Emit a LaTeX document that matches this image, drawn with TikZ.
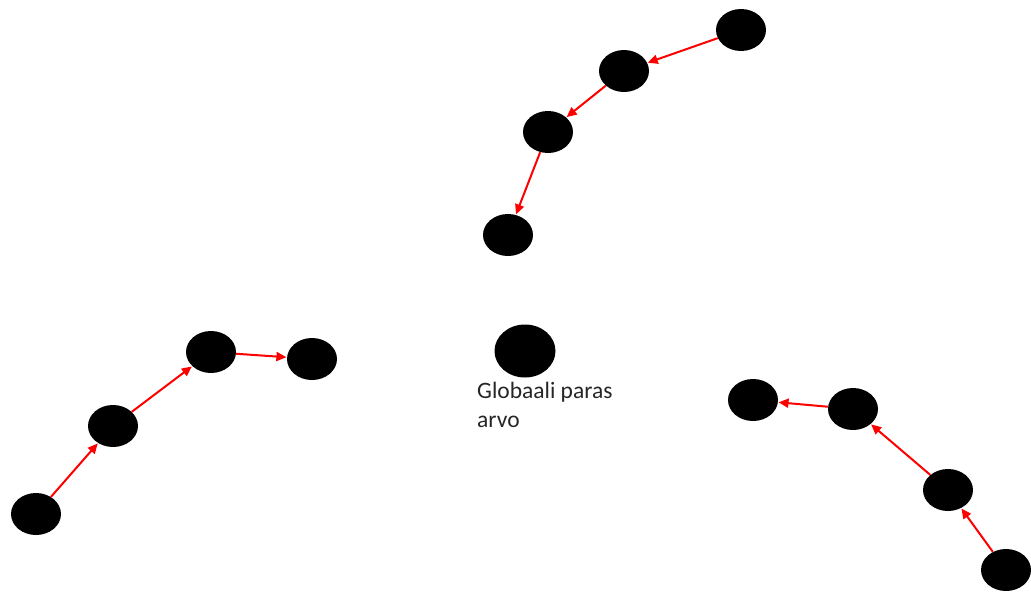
\documentclass[tikz,border=0pt]{standalone}
\usepackage{fontspec}
\setmainfont{Carlito}
\usetikzlibrary{shapes.geometric,arrows.meta}
\tikzset{
  dot/.style={ellipse,fill=black,draw=none,inner sep=0pt,minimum width=50pt,minimum height=42pt},
  bigdot/.style={ellipse,fill=black,draw=none,inner sep=0pt,minimum width=61pt,minimum height=53pt},
  link/.style={draw=red,line width=2pt,-{Triangle[length=10pt,width=9pt]},shorten >=0.5pt}
}
\begin{document}
\begin{tikzpicture}[x=1pt,y=-1pt]
\useasboundingbox (0,0) rectangle (1031,592);
% top group
\node[dot] (t1) at (741,30) {};
\node[dot] (t2) at (624,71) {};
\node[dot] (t3) at (548,132) {};
\node[dot] (t4) at (508,235) {};
% centre
\node[bigdot] (g) at (525,351) {};
\node[anchor=base west,align=left,inner sep=0pt,font=\fontsize{23.5pt}{29pt}\selectfont,text=black!85] (glabel) at (477,427) {Globaali paras\\arvo};
% left group
\node[dot] (l1) at (36,514) {};
\node[dot] (l2) at (113,426) {};
\node[dot] (l3) at (211,352) {};
\node[dot] (l4) at (312,359) {};
% right group
\node[dot] (r1) at (753,400) {};
\node[dot] (r2) at (853,409) {};
\node[dot] (r3) at (948,490) {};
\node[dot] (r4) at (1006,570) {};
% arrows
\draw[link] (t1) -- (t2);
\draw[link] (t2) -- (t3);
\draw[link] (t3) -- (t4);
\draw[link] (l1) -- (l2);
\draw[link] (l2) -- (l3);
\draw[link] (l3) -- (l4);
\draw[link] (r4) -- (r3);
\draw[link] (r3) -- (r2);
\draw[link] (r2) -- (r1);
\end{tikzpicture}
\end{document}
